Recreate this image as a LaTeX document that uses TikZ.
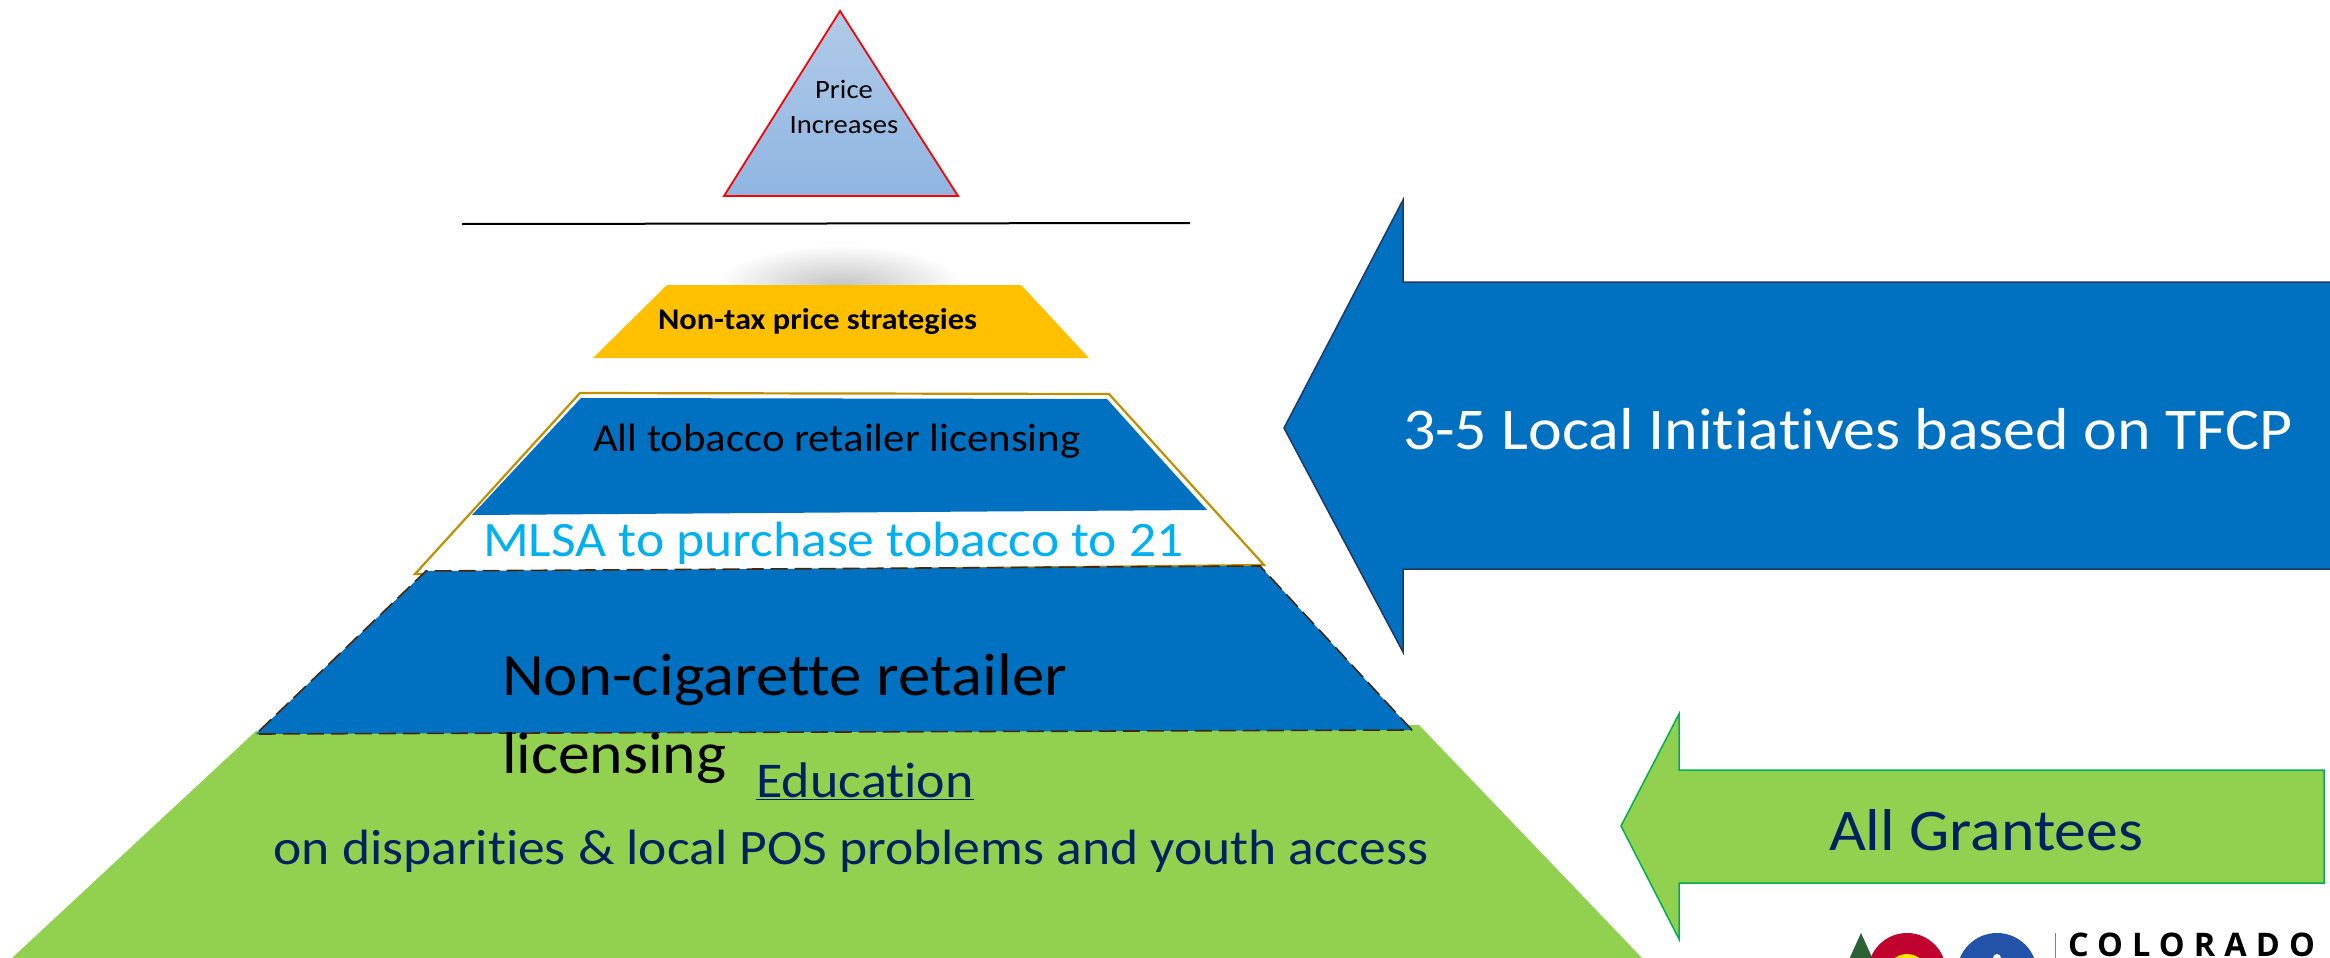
\documentclass[tikz,border=0pt]{standalone}
\usepackage{fontspec}
\setmainfont{Carlito}
\newfontfamily\wide[FakeStretch=1.08,Ligatures=NoCommon]{Carlito}
\newfontfamily\logofont[LetterSpace=28]{Open Sans}
\definecolor{pblue}{HTML}{0070C0}
\definecolor{pgreen}{HTML}{92D050}
\definecolor{porange}{HTML}{FFC000}
\definecolor{pgold}{HTML}{BF9000}
\definecolor{pbrown}{HTML}{43280F}
\definecolor{pnavy}{HTML}{002060}
\definecolor{pcyan}{HTML}{00B0F0}
\definecolor{poutline}{HTML}{1F3864}
\definecolor{parrowgreen}{HTML}{00B050}
\definecolor{tritop}{HTML}{B1CBE9}
\definecolor{tribot}{HTML}{8FB5E1}
\definecolor{sealblue}{HTML}{2353A8}
\definecolor{flagred}{HTML}{C0022F}
\definecolor{treegreen}{HTML}{2A6235}
\tikzset{
  lbl/.style={inner sep=0pt,outer sep=0pt,anchor=base west,font=\wide},
  tier/.style={fill=pblue,draw=none},
  bigarrow/.style={fill=pblue,draw=poutline,line width=1.5pt},
  greenarrow/.style={fill=pgreen,draw=parrowgreen,line width=1.5pt},
}
\newcommand{\pxfont}[1]{\fontsize{#1}{#1}\selectfont}
\begin{document}
\begin{tikzpicture}[x=1pt,y=-1pt]
\path[use as bounding box] (0,0) rectangle (2330,958);
\clip (0,0) rectangle (2330,958);
% apex triangle
\path[top color=tritop,bottom color=tribot] (840,11) -- (958,196) -- (724,196) -- cycle;
\draw[red,line width=1.8pt,line join=miter] (840,11) -- (958,196) -- (724,196) -- cycle;
\node[lbl,anchor=base] (price) at (844,99) {\pxfont{26.5}Price};
\node[lbl,anchor=base] (incr) at (844,133) {\pxfont{26.5}Increases};
% divider
\draw[black,line width=2pt] (462,224) -- (1190,223);
% shadow
\begin{scope}
\clip (700,240) rectangle (980,286);
\shade[inner color=black!24,outer color=white] (840,287) ellipse (125 and 42);
\end{scope}
% orange tier
\fill[porange] (667,285) -- (1021,285) -- (1089,358) -- (593,358) -- cycle;
\node[lbl] (nontax) at (658,329) {\pxfont{30}\bfseries Non-tax price strategies};
% gold-outlined tier
\draw[pgold,fill=white,line width=2.2pt] (580,393) -- (1109,394) -- (1264,565) -- (415,574) -- cycle;
\fill[pblue] (581,398) -- (1107,399) -- (1207,510) -- (472,515) -- cycle;
\node[lbl] (all) at (593,451) {\pxfont{39.6}All tobacco retailer licensing};
\node[lbl] (mlsa) at (483,556) {\color{pcyan}\pxfont{49.6}MLSA to purchase tobacco to 21};
% green base
\fill[pgreen] (256,731) -- (1419,725) -- (1642,958) -- (12,958) -- cycle;
% lower blue tier
\path[tier] (426,571) -- (1260,566) -- (1412,730) -- (256,734) -- cycle;
\draw[pbrown,line width=1.6pt,dash pattern=on 17pt off 7pt] (1412,730) -- (1260,566) -- (426,571) -- (256,734) -- cycle;
\node[lbl] (noncig) at (502,695) {\pxfont{60}Non-cigarette retailer};
\node[lbl] (lic) at (502,773) {\pxfont{59}licensing};
\node[lbl,anchor=base] (edu) at (865,797) {\color{pnavy}\pxfont{50}\underline{Education}};
\node[lbl,anchor=base] (disp) at (851,864) {\color{pnavy}\pxfont{49.6}on disparities \& local POS problems and youth access};
% arrows
\draw[bigarrow] (1284,428) -- (1403,200) -- (1403,282) -- (2335,282) -- (2335,569) -- (1403,569) -- (1403,652) -- cycle;
\node[lbl] (tfcp) at (1403,449) {\color{white}\pxfont{59.2}3-5 Local Initiatives based on TFCP};
\draw[greenarrow] (1621,826) -- (1679,714) -- (1679,770) -- (2324,770) -- (2324,883) -- (1679,883) -- (1679,939) -- cycle;
\node[lbl] (grant) at (1829,850) {\color{pnavy}\pxfont{59}All Grantees};
% logo
\fill[treegreen] (1861,933) -- (1880,975) -- (1842,975) -- cycle;
\fill[flagred] (1907,972) circle (39);
\fill[yellow!90!orange] (1907,975) circle (21);
\fill[sealblue] (1997,973) circle (40);
\foreach \a in {30,60,...,150}{\fill[white] (1997,973) ++(-\a:-27) circle (3.2);}
\fill[white] (1997,958) circle (4);
\draw[gray,line width=1pt] (2055,933) -- (2055,958);
\node[lbl,font=\logofont] (colo) at (2068,956) {\pxfont{32.5}\bfseries COLORADO};
\end{tikzpicture}
\end{document}
